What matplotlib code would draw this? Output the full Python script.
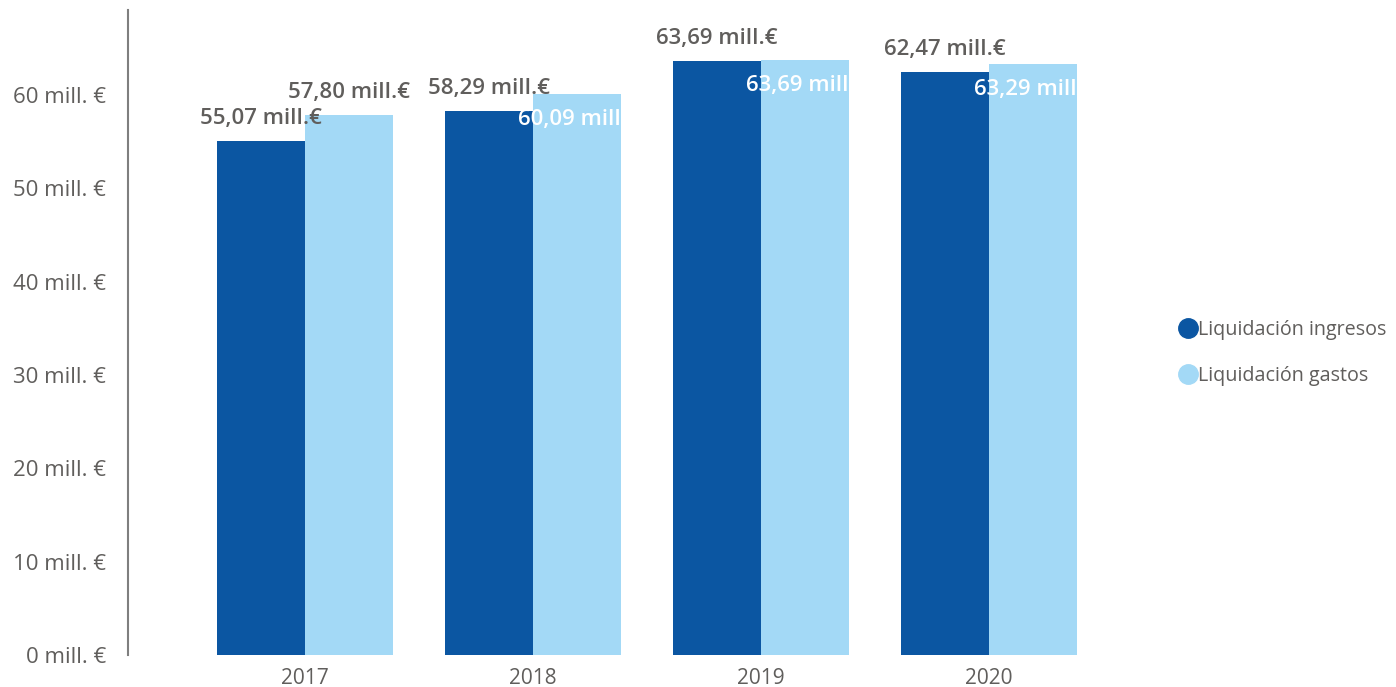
import numpy as np
import matplotlib.pyplot as plt
from matplotlib.lines import Line2D

# data
years = ['2017', '2018', '2019', '2020']
ingresos = [55.07, 58.29, 63.64, 62.47]
gastos = [57.86, 60.09, 63.75, 63.29]
ingresos_labels = ['55,07 mill.€', '58,29 mill.€', '63,69 mill.€', '62,47 mill.€']
gastos_labels = ['57,80 mill.€', '60,09 mill', '63,69 mill', '63,29 mill']
gastos_inside = [False, True, True, True]
yticks = [0, 10, 20, 30, 40, 50, 60]

dark = '#0B56A2'
light = '#A3D9F6'
grey = '#605E5C'

plt.rcParams['font.family'] = ['Open Sans', 'DejaVu Sans']

fig = plt.figure(figsize=(13.96, 6.87), dpi=100)
ax = fig.add_axes([128/1396, (687-655)/687, (1166-128)/1396, (655-10)/687])

x = np.arange(len(years))
w = 0.384
ax.bar(x - w/2, ingresos, w, color=dark)
ax.bar(x + w/2, gastos, w, color=light)

for i in range(len(years)):
    ax.text(x[i] - w/2, ingresos[i] + 1.3, ingresos_labels[i], ha='center', va='bottom',
            fontsize=16, fontweight='semibold', color=grey)
    if gastos_inside[i]:
        ax.text(x[i] + w, gastos[i] - 1.6, gastos_labels[i], ha='right', va='top',
                fontsize=16, fontweight='semibold', color='white')
    else:
        ax.text(x[i] + w/2, gastos[i] + 1.3, gastos_labels[i], ha='center', va='bottom',
                fontsize=16, fontweight='semibold', color=grey)

ax.set_xlim(-0.776, 3.776)
ax.set_ylim(0, 69.1)
ax.set_xticks(x)
ax.set_xticklabels(years)
ax.set_yticks(yticks)
ax.set_yticklabels([f'{v} mill. €' for v in yticks])
ax.tick_params(length=0, colors=grey)
ax.tick_params(axis='y', pad=16, labelsize=16)
ax.tick_params(axis='x', pad=9, labelsize=15)
for s in ['top', 'right', 'bottom']:
    ax.spines[s].set_visible(False)
ax.spines['left'].set_color('#7F7F7F')
ax.spines['left'].set_linewidth(1.5)

handles = [Line2D([], [], marker='o', ls='', markersize=14, color=dark),
           Line2D([], [], marker='o', ls='', markersize=14, color=light)]
fig.legend(handles, ['Liquidación ingresos', 'Liquidación gastos'], loc='center left',
           bbox_to_anchor=(1155/1396, 1 - 353/687), frameon=False, fontsize=14.2,
           labelcolor=grey, handletextpad=-0.2, labelspacing=1.3, handlelength=1.5)

fig.savefig('out.png', dpi=100)
